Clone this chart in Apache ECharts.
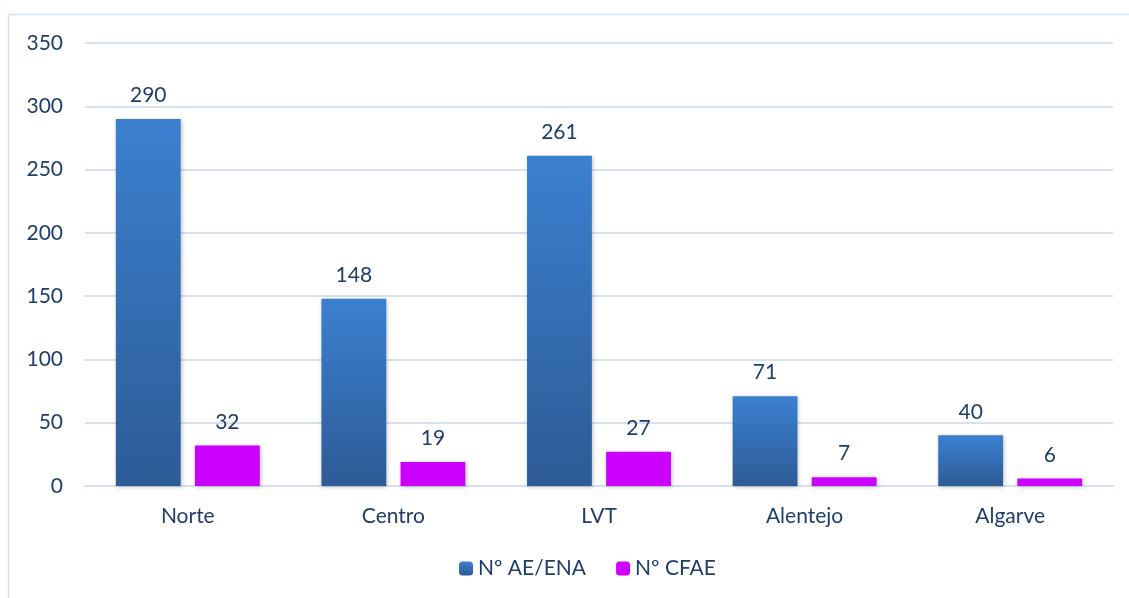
<!DOCTYPE html>
<html>
<head>
<meta charset="utf-8">
<script src="https://cdn.jsdelivr.net/npm/echarts@6/dist/echarts.min.js"></script>
<style>
  html, body { margin: 0; padding: 0; background: #fff; }
  #mChart { width: 1129px; height: 598px; }
</style>
</head>
<body>
<div id="mChart"></div>
<script>
// regiões
var categories = ['Norte', 'Centro', 'LVT', 'Alentejo', 'Algarve'];
// Nº AE/ENA
var aeEnaValues = [290, 148, 261, 71, 40];
// Nº CFAE
var cfaeValues = [32, 19, 27, 7, 6];
var yTicks = [0, 50, 100, 150, 200, 250, 300, 350];

var textColor = '#1f3d6b';
var fontFam = 'Lato';
var myChart = echarts.init(document.getElementById('mChart'));

myChart.setOption({
  animation: false,
  graphic: [{
    type: 'rect',
    shape: { x: 8.5, y: 14.5, width: 1125, height: 600 },
    style: { fill: 'none', stroke: '#d5e1f1', lineWidth: 1.5 },
    silent: true
  }],
  grid: { left: 85, right: 16, top: 43, bottom: 112 },
  legend: {
    bottom: 14,
    left: 454,
    itemWidth: 14,
    itemHeight: 14,
    itemGap: 30,
    textStyle: { color: textColor, fontSize: 21, fontFamily: fontFam },
    data: ['Nº AE/ENA', 'Nº CFAE']
  },
  xAxis: {
    type: 'category',
    data: categories,
    axisLine: { lineStyle: { color: '#d5e1f1', width: 2 } },
    axisTick: { show: false },
    axisLabel: { color: textColor, fontSize: 21, margin: 20, fontFamily: fontFam }
  },
  yAxis: {
    type: 'value',
    min: yTicks[0],
    max: yTicks[yTicks.length - 1],
    interval: 50,
    axisLine: { show: false },
    axisTick: { show: false },
    splitLine: { lineStyle: { color: '#d5e1f1', width: 2 } },
    axisLabel: { color: textColor, fontSize: 21, margin: 22, fontFamily: fontFam }
  },
  series: [
    {
      name: 'Nº AE/ENA',
      type: 'bar',
      data: aeEnaValues,
      barGap: '22%',
      barCategoryGap: '30%',
      itemStyle: {
        color: new echarts.graphic.LinearGradient(0, 0, 0, 1, [
          { offset: 0, color: '#3b80d0' },
          { offset: 1, color: '#2d5b96' }
        ]),
        shadowColor: 'rgba(0,0,0,0.25)',
        shadowBlur: 4,
        shadowOffsetX: 1,
        shadowOffsetY: 1
      },
      label: {
        show: true, position: 'top', distance: 13,
        color: textColor, fontSize: 21, fontFamily: fontFam
      }
    },
    {
      name: 'Nº CFAE',
      type: 'bar',
      data: cfaeValues,
      itemStyle: {
        color: '#cc00ff',
        shadowColor: 'rgba(0,0,0,0.25)',
        shadowBlur: 4,
        shadowOffsetX: 1,
        shadowOffsetY: 1
      },
      label: {
        show: true, position: 'top', distance: 13,
        color: textColor, fontSize: 21, fontFamily: fontFam
      }
    }
  ]
});
</script>
</body>
</html>
